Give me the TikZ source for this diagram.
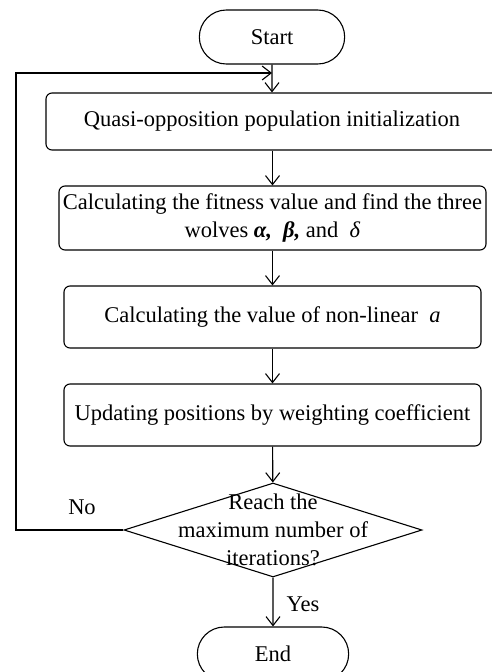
\documentclass[tikz,border=0pt]{standalone}
\usepackage{fontspec}
\setmainfont{Liberation Serif}
\usetikzlibrary{shapes.geometric}
\usetikzlibrary{shapes.misc}
\usetikzlibrary{arrows.meta}

\tikzset{
    line/.style = {line width=1.1pt, -{Straight Barb[length=9pt, width=14pt, line width=1.1pt]}},
    terminal/.style = {draw, line width=1.1pt, rounded rectangle, minimum width=152pt, minimum height=54pt},
    process/.style = {draw, line width=1.1pt, rounded corners=6pt, align=center, inner sep=2pt},
    decision/.style = {draw, line width=1.1pt, diamond, minimum width=298pt, minimum height=94pt, inner sep=0pt}
}

\begin{document}
\begin{tikzpicture}[x=1pt, y=-1pt, font=\fontsize{22.5}{28}\selectfont]
        \useasboundingbox (0, 0) rectangle (492, 672);

        \node[terminal] (start) at (272, 37) {Start};
        \node[process, minimum width=472pt, minimum height=57pt] (init) at (282, 121.5)
            {Quasi-opposition population initialization\hspace*{20pt}};
        \node[process, minimum width=427pt, minimum height=64pt] (fitness) at (272.5, 218)
            {Calculating the fitness value and find the three\\
             wolves \textbf{\textit{α,}}\ \ \textbf{\textit{β,}} and\ \ \textit{δ}};
        \node[process, minimum width=417pt, minimum height=62pt] (nonlin) at (272.5, 317)
            {Calculating the value of non-linear\ \ \textit{a}};
        \node[process, minimum width=417pt, minimum height=62pt] (update) at (272.5, 415)
            {Updating positions by weighting coefficient};
        \node[decision] (check) at (273, 530) {};
        \node[align=center, inner sep=0pt] (checktext) at (273, 530)
            {Reach the\\maximum number of\\iterations?};
        \node[terminal, minimum width=158pt] (end) at (273, 654) {End};

        \node (no) at (82, 507) {No};
        \node (yes) at (303, 604) {Yes};

        \coordinate (loopbot) at (16, 530);
        \coordinate (looptop) at (16, 73);
        \coordinate (join) at (272, 73);

        \draw[line] (start) -- (start |- init.north);
        \draw[line] (init.south -| fitness) -- (fitness);
        \draw[line] (fitness) -- (nonlin);
        \draw[line] (nonlin) -- (update);
        \draw[line] (update) -- (check);
        \draw[line] (check) -- (end);
        \draw[line] (check.west) -- (loopbot) -- (looptop) -- (join);
    \end{tikzpicture}
\end{document}
